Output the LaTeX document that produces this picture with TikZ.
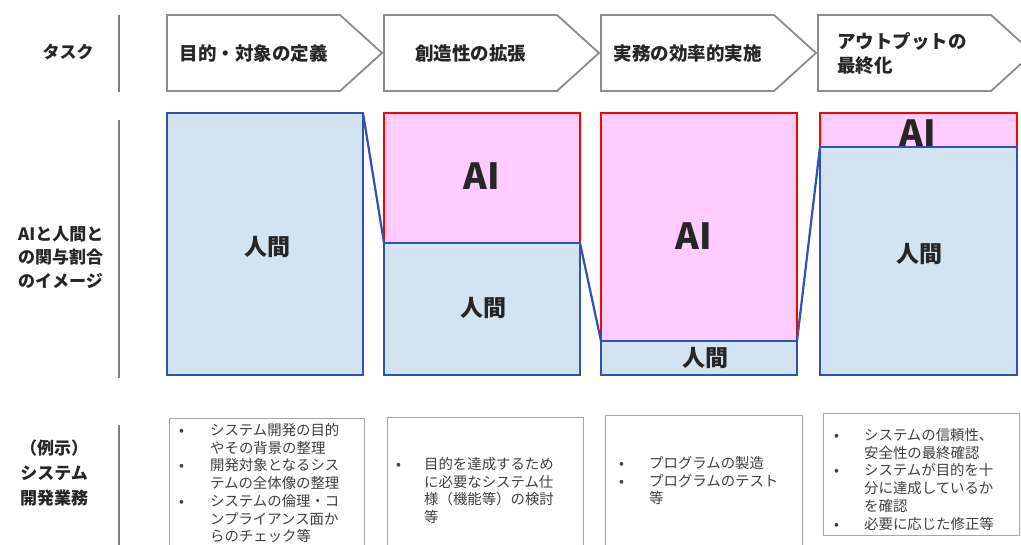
\documentclass[tikz,border=0pt]{standalone}
\usepackage{fontspec}
\setmainfont{Noto Sans CJK JP}
\usepackage{array}
\definecolor{humanfill}{HTML}{D2E3F2}
\definecolor{humanline}{HTML}{2F52B4}
\definecolor{aifill}{HTML}{FFCCFF}
\definecolor{ailine}{HTML}{FF0000}
\definecolor{arrowgray}{HTML}{8C8C8C}
\definecolor{sepgray}{HTML}{7F7F7F}
\definecolor{boxgray}{HTML}{A6A6A6}
\definecolor{txtdark}{HTML}{262626}
\definecolor{txtlist}{HTML}{404040}
\newcommand\tasksh[2]{\draw[taskline] (#1,15) -- ++(173,0) -- ++(42,38) -- ++(-42,38) -- ++(-173,0) -- cycle;}
\begin{document}
\begin{tikzpicture}[x=1pt,y=-1pt,
  humanbox/.style={draw=humanline, fill=humanfill, line width=1.8pt, inner sep=0pt, outer sep=0pt, anchor=north west},
  aibox/.style={draw=ailine, fill=aifill, line width=1.5pt, inner sep=0pt, outer sep=0pt, anchor=north west},
  link/.style={draw=humanline, line width=2.2pt},
  taskline/.style={draw=arrowgray, line width=1.8pt, fill=white},
  tasktxt/.style={font=\bfseries\fontsize{18.5}{24}\selectfont, text=txtdark, inner sep=0pt, align=left},
  sidetxt/.style={font=\bfseries\fontsize{17}{24}\selectfont, text=txtdark, inner sep=0pt},
  ailbl/.style={font=\bfseries\fontsize{36}{40}\selectfont, text=txtdark, inner sep=0pt},
  humlbl/.style={font=\bfseries\fontsize{23}{26}\selectfont, text=txtdark, inner sep=0pt},
  listbox/.style={draw=boxgray, line width=0.9pt, fill=white, inner sep=0pt, outer sep=0pt, anchor=north west},
  listtxt/.style={font=\fontsize{14.4}{17.7}\selectfont, text=txtlist, inner sep=0pt, anchor=north west},
  sepline/.style={draw=sepgray, line width=1.8pt}
]
\useasboundingbox (0,0) rectangle (1021,545);
\clip (0,0) rectangle (1021,545);

% separators
\draw[sepline] (119,15) -- (119,92);
\draw[sepline] (119,120) -- (119,378);
\draw[sepline] (119,425) -- (119,545);

% left labels
\node[sidetxt] (lt) at (68,52) {タスク};
\node[sidetxt, align=left, anchor=west, font=\bfseries\fontsize{17}{23.5}\selectfont] (lm) at (18,257) {AIと人間と\\の関与割合\\のイメージ};
\node[sidetxt, align=center, font=\bfseries\fontsize{17}{25}\selectfont] (lb) at (54,473) {（例示）\\システム\\開発業務};

% task arrows
\tasksh{167}{}
\tasksh{384}{}
\tasksh{601}{}
\tasksh{818}{}
\node[tasktxt] (t1) at (253.5,53) {目的・対象の定義};
\node[tasktxt] (t2) at (470.5,53) {創造性の拡張};
\node[tasktxt] (t3) at (687.5,53) {実務の効率的実施};
\node[tasktxt, anchor=west] (t4) at (837,53) {アウトプットの\\最終化};

% AI boxes
\node[aibox, minimum width=196pt, minimum height=130pt] (a2) at (384,113) {};
\node[aibox, minimum width=196pt, minimum height=228pt] (a3) at (601,113) {};
\node[aibox, minimum width=197pt, minimum height=34pt] (a4) at (820,113) {};
\node[ailbl] (la4) at (918,133.5) {AI};

% human boxes
\node[humanbox, minimum width=196pt, minimum height=262pt] (h1) at (167,113) {};
\node[humanbox, minimum width=196pt, minimum height=132pt] (h2) at (384,243) {};
\node[humanbox, minimum width=196pt, minimum height=34pt] (h3) at (601,341) {};
\node[humanbox, minimum width=197pt, minimum height=228pt] (h4) at (820,147) {};

% connectors
\draw[link] (h1.north east) -- (h2.north west);
\draw[link] (h2.north east) -- (h3.north west);
\draw[link] (h3.north east) -- (h4.north west);

% labels
\node[ailbl] (la2) at (482,176.5) {AI};
\node[ailbl] (la3) at (694,236) {AI};
\node[humlbl] (lh1) at (267,247) {人間};
\node[humlbl] (lh2) at (483,308) {人間};
\node[humlbl] (lh3) at (705,358) {人間};
\node[humlbl] (lh4) at (919,254) {人間};

% example boxes
\node[listbox, minimum width=195pt, minimum height=140pt] (b1) at (169,418) {};
\node[listbox, minimum width=196pt, minimum height=140pt] (b2) at (387,417) {};
\node[listbox, minimum width=197pt, minimum height=140pt] (b3) at (605,415) {};
\node[listbox, minimum width=196pt, minimum height=122pt] (b4) at (823,413) {};

\node[listtxt] (x1) at (179,423) {\begin{tabular}{@{}p{31pt}@{}l@{}}
•&システム開発の目的\\&やその背景の整理\\
•&開発対象となるシス\\&テムの全体像の整理\\
•&システムの倫理・コ\\&ンプライアンス面か\\&らのチェック等\end{tabular}};
\node[listtxt] (x2) at (396,457) {\begin{tabular}{@{}p{28pt}@{}l@{}}
•&目的を達成するため\\&に必要なシステム仕\\&様（機能等）の検討\\&等\end{tabular}};
\node[listtxt] (x3) at (619,456) {\begin{tabular}{@{}p{30pt}@{}l@{}}
•&プログラムの製造\\
•&プログラムのテスト\\&等\end{tabular}};
\node[listtxt] (x4) at (834,428) {\begin{tabular}{@{}p{30pt}@{}l@{}}
•&システムの信頼性、\\&安全性の最終確認\\
•&システムが目的を十\\&分に達成しているか\\&を確認\\
•&必要に応じた修正等\end{tabular}};
\end{tikzpicture}
\end{document}
